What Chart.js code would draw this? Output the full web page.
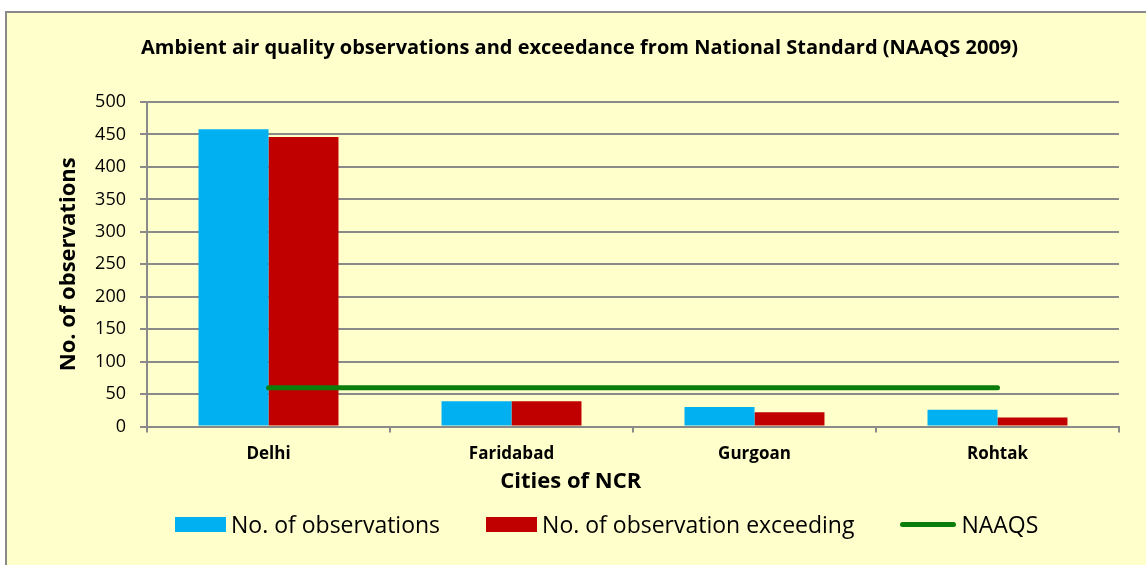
<!DOCTYPE html>
<html>
<head>
<meta charset="utf-8">
<script src="https://cdn.jsdelivr.net/npm/chart.js@4/dist/chart.umd.min.js"></script>
<style>
  html, body { margin: 0; padding: 0; background: #fff; }
  body { width: 1146px; height: 565px; position: relative; overflow: hidden; font-family: "Open Sans", sans-serif; }
  .frame { position: absolute; left: 5px; top: 11px; width: 1160px; height: 580px; background: #ffffcc; border: 2px solid #8a8a8a; box-sizing: border-box; }
  #wrap { position: absolute; left: 0; top: 0; width: 1146px; height: 565px; }
  .legend { position: absolute; left: 175px; top: 508px; display: flex; align-items: center; gap: 46px; font-size: 23px; color: #000; }
  .legend .item { display: flex; align-items: center; gap: 5px; }
  .legend .box { width: 51px; height: 15px; }
  .legend .line { width: 56px; height: 5px; border-radius: 3px; }
</style>
</head>
<body>
<div class="frame"></div>
<div id="wrap"><canvas id="airChart" width="1146" height="565"></canvas></div>
<div class="legend" id="legend"></div>
<script>
// Ambient air quality — observations vs exceedance per NCR city
const cities = ['Delhi', 'Faridabad', 'Gurgoan', 'Rohtak'];
const observations = [458, 39, 30, 26];
const exceeding = [446, 39, 22, 14];
const naaqs = [60, 60, 60, 60];
const yTicks = [0, 50, 100, 150, 200, 250, 300, 350, 400, 450, 500];
const xTitle = 'Cities of NCR';

const BLUE = '#00b0f0';
const RED = '#c00000';
const GREEN = '#0b7d0b';
const GRID = '#8a8a8a';

// x axis title sits left of centre in the original, so draw it ourselves
const xTitlePlugin = {
  id: 'xTitle',
  afterDraw(chart) {
    const ctx = chart.ctx;
    const area = chart.chartArea;
    ctx.save();
    ctx.font = 'bold 22px "Open Sans"';
    ctx.fillStyle = '#000';
    ctx.textAlign = 'center';
    ctx.textBaseline = 'middle';
    ctx.fillText(xTitle, area.left + (area.right - area.left) * 0.436, area.bottom + 55);
    ctx.restore();
  }
};

const chart = new Chart(document.getElementById('airChart'), {
  type: 'bar',
  data: {
    labels: cities,
    datasets: [
      { label: 'No. of observations', data: observations, backgroundColor: BLUE, order: 1,
        categoryPercentage: 0.576, barPercentage: 1 },
      { label: 'No. of observation exceeding', data: exceeding, backgroundColor: RED, order: 1,
        categoryPercentage: 0.576, barPercentage: 1 },
      { type: 'line', label: 'NAAQS', data: naaqs, borderColor: GREEN, backgroundColor: GREEN,
        borderWidth: 5, borderCapStyle: 'round', pointRadius: 0, tension: 0, order: 0 }
    ]
  },
  options: {
    responsive: false,
    animation: false,
    layout: { padding: { left: 40, right: 27, top: 10, bottom: 90 } },
    plugins: {
      legend: { display: false },
      tooltip: { enabled: false },
      title: {
        display: true,
        text: 'Ambient air quality observations and exceedance from National Standard (NAAQS 2009)',
        color: '#000',
        font: { family: 'Open Sans', size: 20, weight: 'bold' },
        padding: { top: 26, bottom: 42 }
      }
    },
    scales: {
      x: {
        grid: { display: true, drawOnChartArea: false, color: GRID, lineWidth: 2, tickLength: 6, offset: true },
        border: { display: true, color: GRID, width: 2 },
        ticks: { color: '#000', padding: 11, font: { family: 'Open Sans', size: 17, weight: 'bold' } }
      },
      y: {
        min: 0, max: 500,
        afterBuildTicks: (scale) => { scale.ticks = yTicks.map(v => ({ value: v })); },
        afterFit: (scale) => { scale.width = 107; },
        grid: { color: GRID, lineWidth: 2, tickLength: 7 },
        border: { display: true, color: GRID, width: 2 },
        ticks: { color: '#000', padding: 14, font: { family: 'Open Sans', size: 18 } },
        title: { display: true, text: 'No. of observations', color: '#000',
          font: { family: 'Open Sans', size: 22, weight: 'bold' }, padding: { top: 16, bottom: 0 } }
      }
    }
  },
  plugins: [xTitlePlugin]
});

// legend built from the datasets
const legendEl = document.getElementById('legend');
chart.data.datasets.forEach(ds => {
  const item = document.createElement('div');
  item.className = 'item';
  const mark = document.createElement('span');
  mark.className = ds.type === 'line' ? 'line' : 'box';
  mark.style.background = ds.type === 'line' ? ds.borderColor : ds.backgroundColor;
  const txt = document.createElement('span');
  txt.textContent = ds.label;
  item.appendChild(mark);
  item.appendChild(txt);
  legendEl.appendChild(item);
});
</script>
</body>
</html>
